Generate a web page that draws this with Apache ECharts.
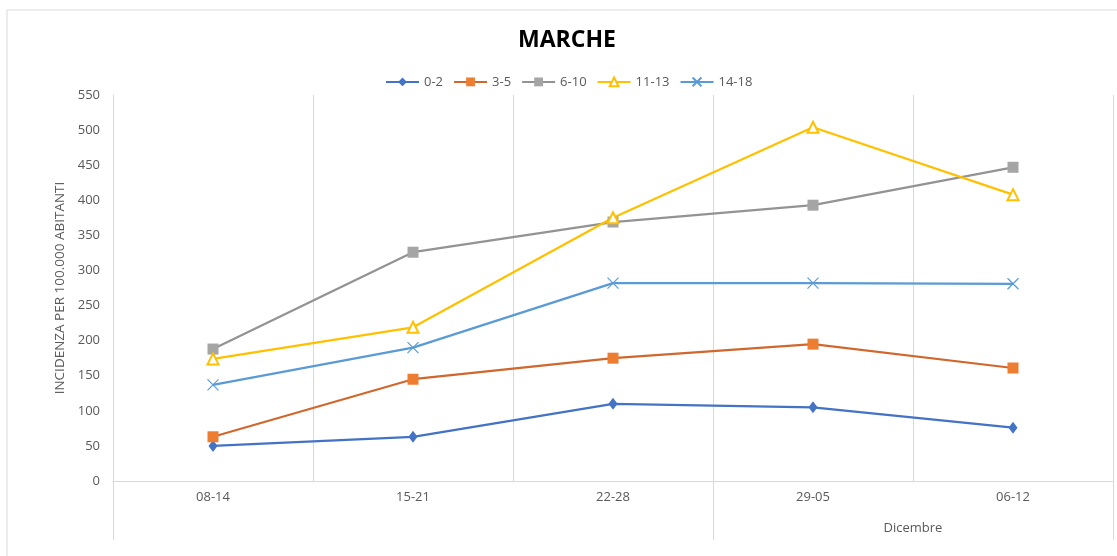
<!DOCTYPE html>
<html>
<head>
<meta charset="utf-8">
<script src="https://cdn.jsdelivr.net/npm/echarts@6/dist/echarts.min.js"></script>
<style>
html, body { margin: 0; padding: 0; background: #fff; }
#chart { width: 1117px; height: 556px; }
</style>
</head>
<body>
<div id="chart"></div>
<script>
var weeks = ['08-14', '15-21', '22-28', '29-05', '06-12'];
var age_0_2 = [50, 63, 110, 105, 76];
var age_3_5 = [63, 145, 175, 195, 161];
var age_6_10 = [188, 326, 369, 393, 447];
var age_11_13 = [174, 219, 375, 504, 408];
var age_14_18 = [137, 190, 282, 282, 281];
var yTicks = [0, 550, 50];

var myChart = echarts.init(document.getElementById('chart'));
var font = '"Open Sans", "Liberation Sans", sans-serif';
var grey = '#595959';

var option = {
    animation: false,
    textStyle: { fontFamily: font },
    graphic: [{
        type: 'rect', silent: true,
        shape: { x: 7, y: 10, width: 1200, height: 600 },
        style: { fill: 'none', stroke: '#d9d9d9', lineWidth: 1 }
    }, {
        type: 'text', silent: true, left: 518, top: 29,
        style: { text: 'MARCHE', font: 'bold 23px ' + font, fill: '#000' }
    }],
    legend: {
        top: 70, left: 380, itemWidth: 33, itemHeight: 11, itemGap: 10,
        textStyle: { fontFamily: font, fontSize: 13, color: grey }
    },
    grid: { left: 113, right: 4, top: 95, bottom: 75 },
    xAxis: [{
        type: 'category', data: weeks, boundaryGap: true,
        axisLine: { lineStyle: { color: '#d9d9d9' } },
        axisTick: { show: false },
        axisLabel: { color: grey, fontSize: 13, margin: 10 },
        splitLine: { show: true, lineStyle: { color: '#d9d9d9' } }
    }, {
        type: 'value', position: 'bottom', min: 0, max: 5,
        axisLine: { show: false },
        splitLine: { show: false },
        axisTick: { show: true, customValues: [0, 3, 5], length: 59, lineStyle: { color: '#d9d9d9' } },
        axisLabel: { customValues: [4], formatter: function () { return 'Dicembre'; },
            color: grey, fontSize: 13, margin: 41 }
    }],
    yAxis: {
        type: 'value', min: yTicks[0], max: yTicks[1], interval: yTicks[2],
        name: 'INCIDENZA PER 100.000 ABITANTI', nameLocation: 'middle', nameGap: 41,
        nameTextStyle: { color: grey, fontSize: 13.5 },
        axisLine: { show: true, lineStyle: { color: '#d9d9d9' } },
        axisTick: { show: false },
        axisLabel: { color: grey, fontSize: 13, margin: 13 },
        splitLine: { show: false }
    },
    series: [{
        name: '0-2', type: 'line', data: age_0_2,
        symbol: 'diamond', symbolSize: [9, 12],
        lineStyle: { color: '#4472C4', width: 2.25 },
        itemStyle: { color: '#4472C4' }
    }, {
        name: '3-5', type: 'line', data: age_3_5,
        symbol: 'rect', symbolSize: 11,
        lineStyle: { color: '#D0672C', width: 2.25 },
        itemStyle: { color: '#ED7D31' }
    }, {
        name: '6-10', type: 'line', data: age_6_10,
        symbol: 'rect', symbolSize: 11,
        lineStyle: { color: '#939393', width: 2.25 },
        itemStyle: { color: '#A5A5A5' }
    }, {
        name: '11-13', type: 'line', data: age_11_13,
        symbol: 'emptyTriangle', symbolSize: 11,
        lineStyle: { color: '#FFC000', width: 2.25 },
        itemStyle: { color: '#FFC000', borderColor: '#FFC000', borderWidth: 1.2 }
    }, {
        name: '14-18', type: 'line', data: age_14_18,
        symbol: 'path://M0,0L10,10M10,0L0,10', symbolSize: 11,
        lineStyle: { color: '#5B9BD5', width: 2.25 },
        itemStyle: { color: 'none', borderColor: '#5B9BD5', borderWidth: 1.2 }
    }]
};

myChart.setOption(option);
</script>
</body>
</html>
